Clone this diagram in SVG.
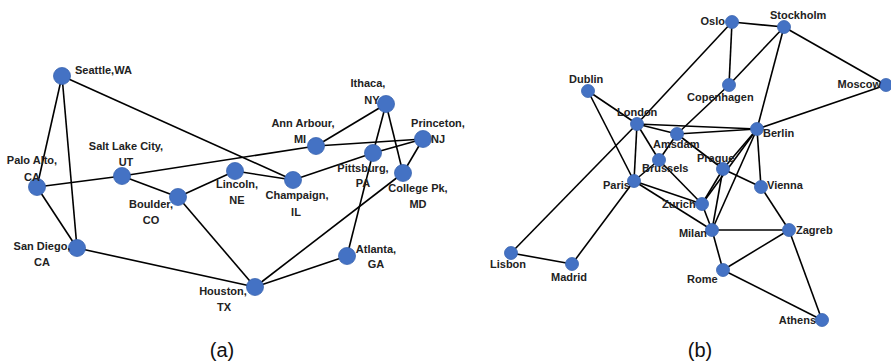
<svg xmlns="http://www.w3.org/2000/svg" width="891" height="364" viewBox="0 0 891 364">
<style>
.e{stroke:#000;stroke-width:1.6;fill:none}
.na{fill:#4472C4;stroke:#3A64B0;stroke-width:0.8}
.l{font-family:"Liberation Sans",Arial,sans-serif;font-weight:bold;font-size:11px;fill:#222}
.c{text-anchor:middle}
.cap{font-family:"Liberation Sans",Arial,sans-serif;font-size:20px;fill:#111;text-anchor:middle}
</style>
<rect width="891" height="364" fill="#fff"/>
<g id="connectors">
<!-- panel a -->
<line class="e" x1="62" y1="76" x2="37" y2="187"/>
<line class="e" x1="62" y1="76" x2="77" y2="248"/>
<line class="e" x1="62" y1="76" x2="293" y2="180"/>
<line class="e" x1="37" y1="187" x2="77" y2="248"/>
<line class="e" x1="37" y1="187" x2="122" y2="176"/>
<line class="e" x1="77" y1="248" x2="255" y2="287"/>
<line class="e" x1="122" y1="176" x2="178" y2="197"/>
<line class="e" x1="122" y1="176" x2="316" y2="146"/>
<line class="e" x1="178" y1="197" x2="235" y2="171"/>
<line class="e" x1="178" y1="197" x2="255" y2="287"/>
<line class="e" x1="235" y1="171" x2="293" y2="180"/>
<line class="e" x1="293" y1="180" x2="373" y2="153"/>
<line class="e" x1="255" y1="287" x2="347" y2="256"/>
<line class="e" x1="255" y1="287" x2="403" y2="173"/>
<line class="e" x1="347" y1="256" x2="373" y2="153"/>
<line class="e" x1="316" y1="146" x2="386" y2="104"/>
<line class="e" x1="316" y1="146" x2="423" y2="139"/>
<line class="e" x1="373" y1="153" x2="386" y2="104"/>
<line class="e" x1="373" y1="153" x2="423" y2="139"/>
<line class="e" x1="386" y1="104" x2="403" y2="173"/>
<line class="e" x1="423" y1="139" x2="403" y2="173"/>
<!-- panel b -->
<line class="e" x1="732" y1="22" x2="784" y2="27"/>
<line class="e" x1="732" y1="22" x2="729" y2="85"/>
<line class="e" x1="732" y1="22" x2="637" y2="124"/>
<line class="e" x1="784" y1="27" x2="729" y2="85"/>
<line class="e" x1="784" y1="27" x2="886" y2="85"/>
<line class="e" x1="784" y1="27" x2="757" y2="129"/>
<line class="e" x1="886" y1="85" x2="757" y2="129"/>
<line class="e" x1="729" y1="85" x2="677" y2="134"/>
<line class="e" x1="588" y1="91" x2="637" y2="124"/>
<line class="e" x1="588" y1="91" x2="634" y2="181"/>
<line class="e" x1="637" y1="124" x2="511" y2="253"/>
<line class="e" x1="637" y1="124" x2="634" y2="181"/>
<line class="e" x1="637" y1="124" x2="659" y2="160"/>
<line class="e" x1="637" y1="124" x2="677" y2="134"/>
<line class="e" x1="637" y1="124" x2="757" y2="129"/>
<line class="e" x1="677" y1="134" x2="757" y2="129"/>
<line class="e" x1="677" y1="134" x2="659" y2="160"/>
<line class="e" x1="677" y1="134" x2="723" y2="169"/>
<line class="e" x1="659" y1="160" x2="634" y2="181"/>
<line class="e" x1="659" y1="160" x2="702" y2="204"/>
<line class="e" x1="634" y1="181" x2="702" y2="204"/>
<line class="e" x1="634" y1="181" x2="712" y2="230"/>
<line class="e" x1="634" y1="181" x2="572" y2="264"/>
<line class="e" x1="511" y1="253" x2="572" y2="264"/>
<line class="e" x1="757" y1="129" x2="723" y2="169"/>
<line class="e" x1="757" y1="129" x2="702" y2="204"/>
<line class="e" x1="757" y1="129" x2="712" y2="230"/>
<line class="e" x1="757" y1="129" x2="761" y2="187"/>
<line class="e" x1="723" y1="169" x2="702" y2="204"/>
<line class="e" x1="723" y1="169" x2="712" y2="230"/>
<line class="e" x1="723" y1="169" x2="761" y2="187"/>
<line class="e" x1="702" y1="204" x2="712" y2="230"/>
<line class="e" x1="712" y1="230" x2="789" y2="230"/>
<line class="e" x1="712" y1="230" x2="723" y2="270"/>
<line class="e" x1="761" y1="187" x2="789" y2="230"/>
<line class="e" x1="789" y1="230" x2="723" y2="270"/>
<line class="e" x1="789" y1="230" x2="822" y2="320"/>
<line class="e" x1="723" y1="270" x2="822" y2="320"/>
</g>
<!-- panel a nodes -->
<g id="seattle"><circle class="na" cx="62" cy="76" r="8.5"/><text class="l" x="75" y="74">Seattle,WA</text></g>
<g id="paloalto"><circle class="na" cx="37" cy="187" r="8.5"/><text class="l c" x="32" y="164">Palo Alto,<tspan x="32" y="181">CA</tspan></text></g>
<g id="saltlake"><circle class="na" cx="122" cy="176" r="8.5"/><text class="l c" x="126" y="150">Salt Lake City,<tspan x="126" y="166">UT</tspan></text></g>
<g id="boulder"><circle class="na" cx="178" cy="197" r="8.5"/><text class="l c" x="151" y="208">Boulder,<tspan x="151" y="224">CO</tspan></text></g>
<g id="sandiego"><circle class="na" cx="77" cy="248" r="8.5"/><text class="l c" x="42" y="250">San Diego,<tspan x="42" y="266">CA</tspan></text></g>
<g id="houston"><circle class="na" cx="255" cy="287" r="8.5"/><text class="l c" x="223" y="295">Houston,<tspan x="224" y="311">TX</tspan></text></g>
<g id="lincoln"><circle class="na" cx="235" cy="171" r="8.5"/><text class="l c" x="237" y="188">Lincoln,<tspan x="237" y="204">NE</tspan></text></g>
<g id="champaign"><circle class="na" cx="293" cy="180" r="8.5"/><text class="l c" x="297" y="199">Champaign,<tspan x="296" y="216">IL</tspan></text></g>
<g id="annarbour"><circle class="na" cx="316" cy="146" r="8.5"/><text class="l c" x="303" y="127">Ann Arbour,<tspan x="300" y="143">MI</tspan></text></g>
<g id="ithaca"><circle class="na" cx="386" cy="104" r="8.5"/><text class="l c" x="368" y="87">Ithaca,<tspan x="372" y="104">NY</tspan></text></g>
<g id="pittsburg"><circle class="na" cx="373" cy="153" r="8.5"/><text class="l c" x="363" y="172">Pittsburg,<tspan x="363" y="187">PA</tspan></text></g>
<g id="princeton"><circle class="na" cx="423" cy="139" r="8.5"/><text class="l c" x="438" y="127">Princeton,<tspan x="438" y="143">NJ</tspan></text></g>
<g id="collegepk"><circle class="na" cx="403" cy="173" r="8.5"/><text class="l c" x="418" y="192">College Pk,<tspan x="418" y="208">MD</tspan></text></g>
<g id="atlanta"><circle class="na" cx="347" cy="256" r="8.5"/><text class="l c" x="376" y="253">Atlanta,<tspan x="376" y="268">GA</tspan></text></g>
<!-- panel b nodes -->
<g id="oslo"><circle class="na" cx="732" cy="22" r="6.5"/><text class="l" x="725" y="25" text-anchor="end">Oslo</text></g>
<g id="stockholm"><circle class="na" cx="784" cy="27" r="6.5"/><text class="l" x="770" y="19">Stockholm</text></g>
<g id="moscow"><circle class="na" cx="886" cy="85" r="6.5"/><text class="l" x="881" y="88" text-anchor="end">Moscow</text></g>
<g id="copenhagen"><circle class="na" cx="729" cy="85" r="6.5"/><text class="l" x="687" y="101">Copenhagen</text></g>
<g id="berlin"><circle class="na" cx="757" cy="129" r="6.5"/><text class="l" x="763" y="137">Berlin</text></g>
<g id="prague"><circle class="na" cx="723" cy="169" r="6.5"/><text class="l" x="697" y="162">Prague</text></g>
<g id="dublin"><circle class="na" cx="588" cy="91" r="6.5"/><text class="l" x="569" y="83">Dublin</text></g>
<g id="london"><circle class="na" cx="637" cy="124" r="6.5"/><text class="l" x="617" y="116">London</text></g>
<g id="amsdam"><circle class="na" cx="677" cy="134" r="6.5"/><text class="l" x="653" y="148">Amsdam</text></g>
<g id="brussels"><circle class="na" cx="659" cy="160" r="6.5"/><text class="l" x="642" y="172">Brussels</text></g>
<g id="paris"><circle class="na" cx="634" cy="181" r="6.5"/><text class="l" x="603" y="189">Paris</text></g>
<g id="zurich"><circle class="na" cx="702" cy="204" r="6.5"/><text class="l" x="662" y="208">Zurich</text></g>
<g id="milan"><circle class="na" cx="712" cy="230" r="6.5"/><text class="l" x="707" y="237" text-anchor="end">Milan</text></g>
<g id="vienna"><circle class="na" cx="761" cy="187" r="6.5"/><text class="l" x="767" y="189">Vienna</text></g>
<g id="zagreb"><circle class="na" cx="789" cy="230" r="6.5"/><text class="l" x="796" y="234">Zagreb</text></g>
<g id="rome"><circle class="na" cx="723" cy="270" r="6.5"/><text class="l" x="687" y="283">Rome</text></g>
<g id="athens"><circle class="na" cx="822" cy="320" r="6.5"/><text class="l" x="816" y="324" text-anchor="end">Athens</text></g>
<g id="lisbon"><circle class="na" cx="511" cy="253" r="6.5"/><text class="l" x="490" y="268">Lisbon</text></g>
<g id="madrid"><circle class="na" cx="572" cy="264" r="6.5"/><text class="l" x="551" y="281">Madrid</text></g>
<text class="cap" x="222" y="357">(a)</text>
<text class="cap" x="700" y="357">(b)</text>
</svg>
